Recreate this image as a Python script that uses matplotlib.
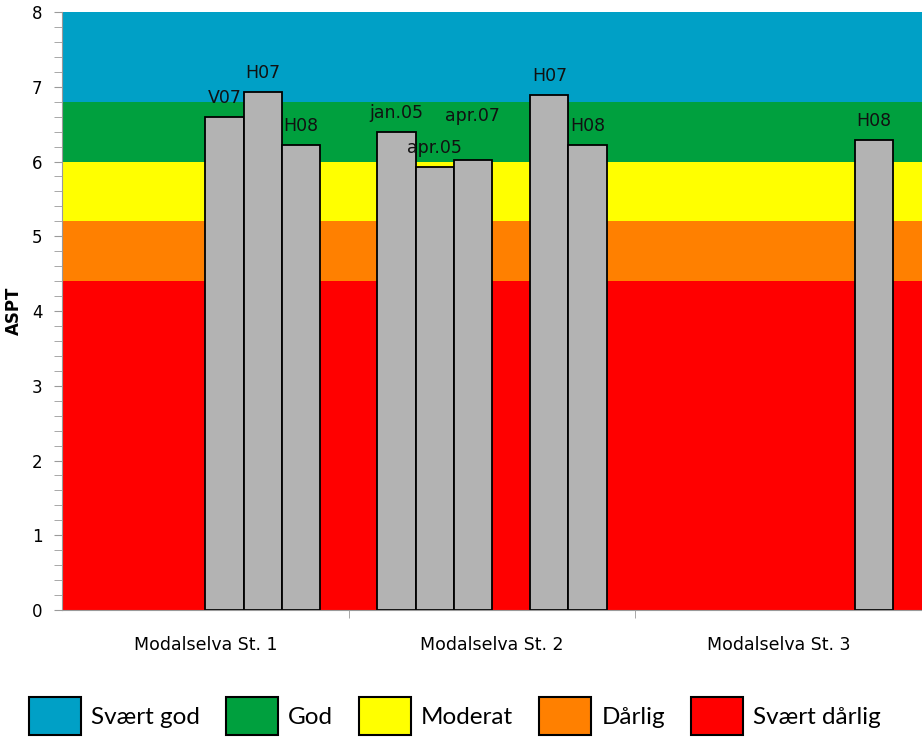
import numpy as np
import matplotlib
matplotlib.use("Agg")
import matplotlib.pyplot as plt
from matplotlib import font_manager as fm
from matplotlib.patches import Patch
from matplotlib.ticker import MultipleLocator, FixedLocator

# Data
stations = ["Modalselva St. 1", "Modalselva St. 2", "Modalselva St. 3"]
series = ["jan.05", "apr.05", "apr.07", "V07", "H07", "H08"]
jan05 = [np.nan, 6.39, np.nan]
apr05 = [np.nan, 5.93, np.nan]
apr07 = [np.nan, 6.02, np.nan]
v07 = [6.60, np.nan, np.nan]
h07 = [6.93, 6.89, np.nan]
h08 = [6.22, 6.22, 6.29]
series_values = [jan05, apr05, apr07, v07, h07, h08]

# ASPT quality classes (lower bound, upper bound)
class_names = ["Svært god", "God", "Moderat", "Dårlig", "Svært dårlig"]
class_bounds = [(6.8, 8.0), (6.0, 6.8), (5.2, 6.0), (4.4, 5.2), (0.0, 4.4)]
class_colors = ["#00a0c6", "#00a03e", "#ffff00", "#ff8000", "#ff0000"]

# extra lift (points) for labels that would collide in the original
label_lift = {"apr.07": 18}

installed = {f.name for f in fm.fontManager.ttflist}
legend_font = "Liberation Sans Narrow" if "Liberation Sans Narrow" in installed else "Lato"

fig = plt.figure(figsize=(9.22, 7.38), dpi=100)
ax = fig.add_axes([62 / 922, 128 / 738, 860 / 922, 598 / 738])

for (lo, hi), col in zip(class_bounds, class_colors):
    ax.axhspan(lo, hi, color=col, lw=0, zorder=0)

x = np.arange(len(stations))
slot = 0.8 / len(series)
for k, (name, vals) in enumerate(zip(series, series_values)):
    pos = x + (k - (len(series) - 1) / 2) * slot
    ax.bar(pos, vals, width=slot, color="#b3b3b3", edgecolor="black",
           linewidth=1.3, zorder=2)
    for px, v in zip(pos, vals):
        if not np.isnan(v):
            ax.annotate(name, (px, v), xytext=(0, 10 + label_lift.get(name, 0)),
                        textcoords="offset points", ha="center", va="baseline",
                        fontsize=12.5, color="#111111", zorder=3)

ax.set_xlim(-0.5, len(stations) - 0.5)
ax.set_ylim(0, 8)

ax.yaxis.set_major_locator(MultipleLocator(1))
ax.yaxis.set_minor_locator(MultipleLocator(0.2))
ax.tick_params(axis="y", which="both", direction="out", length=6, color="#9a9a9a",
               labelsize=12, pad=8)
ax.set_ylabel("ASPT", fontsize=12, fontweight="bold")
ax.yaxis.set_label_coords(-0.046, 0.5)

ax.set_xticks(x)
ax.set_xticklabels(stations, fontsize=12.5)
ax.xaxis.set_minor_locator(FixedLocator(x[:-1] + 0.5))
ax.tick_params(axis="x", which="major", length=0, pad=19)
ax.tick_params(axis="x", which="minor", direction="out", length=6, color="#9a9a9a")

for side in ["top", "right"]:
    ax.spines[side].set_visible(False)
ax.spines["left"].set_color("#9a9a9a")
ax.spines["bottom"].set_color("#9a9a9a")

handles = [Patch(facecolor=c, edgecolor="black", linewidth=1.5) for c in class_colors]
fig.legend(handles, class_names, loc="center", bbox_to_anchor=(0.4935, 0.03),
           ncol=5, frameon=False, prop={"family": legend_font, "size": 17.5},
           handlelength=2.14, handleheight=2.0, handletextpad=0.41,
           columnspacing=1.07, borderpad=0, borderaxespad=0)

fig.savefig("out.png", dpi=100)
